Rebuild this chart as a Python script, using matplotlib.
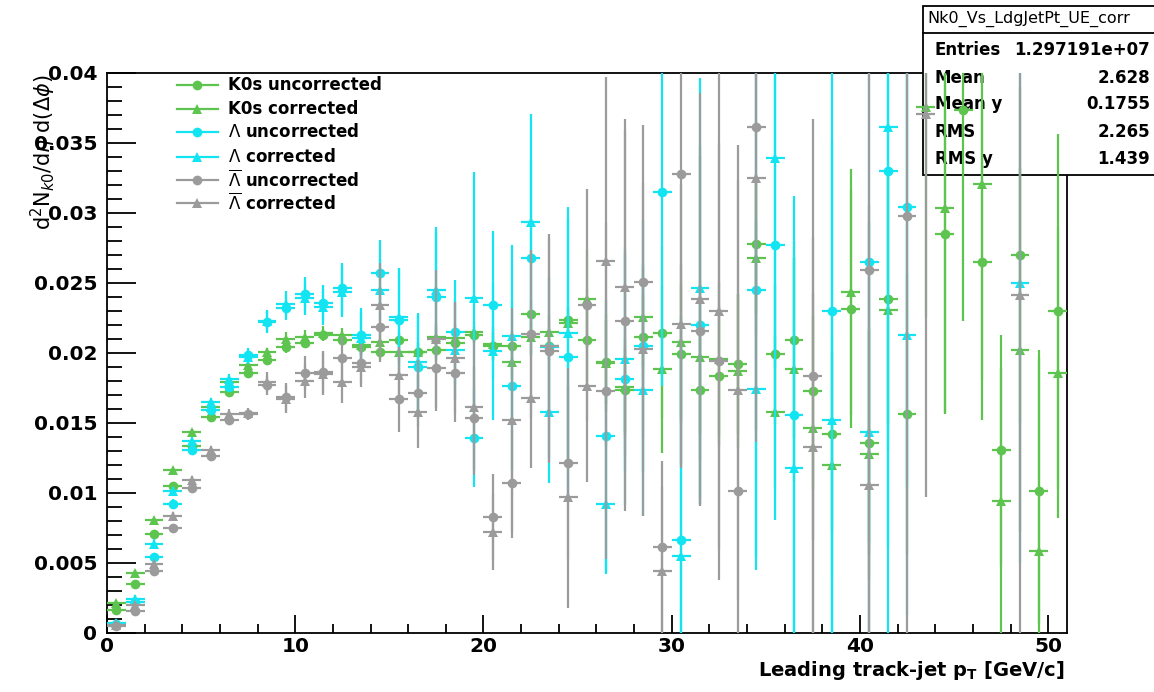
import numpy as np
import matplotlib.pyplot as plt
from matplotlib.lines import Line2D
from matplotlib.patches import Rectangle
from matplotlib.ticker import MultipleLocator

nan = np.nan

# bin centres (1 GeV/c bins)
pt_bins = np.arange(51) + 0.5

# K0s
k0_unc = [0.00167, 0.00352, 0.00705, 0.01048, 0.01333, 0.01543, 0.01721, 0.01857, 0.01948, 0.02043,
          0.02074, 0.02129, 0.02093, 0.02045, 0.0201, 0.02093, 0.0201, 0.02021, 0.02069, 0.02129,
          0.02053, 0.02048, 0.02278, 0.0205, 0.02238, 0.02093, 0.01934, 0.01735, 0.02111, 0.02146,
          0.01992, 0.01735, 0.01833, 0.0192, 0.02781, 0.01995, 0.02093, 0.0173, 0.01422, 0.02313,
          0.01359, 0.02384, 0.01563, nan, 0.02848, 0.03735, 0.02649, 0.01306, 0.02702, 0.01015, 0.02297]
k0_unc_err = [0.0002, 0.0002, 0.0002, 0.0002, 0.0002, 0.0003, 0.0003, 0.0003, 0.0003, 0.0004,
              0.0004, 0.0004, 0.0004, 0.0006, 0.0006, 0.0006, 0.0006, 0.0006, 0.0006, 0.0006,
              0.001, 0.001, 0.001, 0.001, 0.001, 0.003, 0.003, 0.003, 0.003, 0.0062,
              0.005, 0.005, 0.005, 0.005, 0.005, 0.005, 0.007, 0.007, 0.007, 0.0085,
              0.008, 0.009, 0.010, nan, 0.0128, 0.0151, 0.0113, 0.0082, 0.012, 0.0095, 0.0127]
k0_cor = [0.00214, 0.00429, 0.00805, 0.01162, 0.01436, 0.01614, 0.0179, 0.01912, 0.02007, 0.02102,
          0.02117, 0.0214, 0.02129, 0.02057, 0.02081, 0.0201, 0.0201, 0.02117, 0.02105, 0.02152,
          0.02066, 0.01934, 0.02111, 0.02151, 0.02212, 0.02384, 0.01926, 0.0176, 0.02257, 0.01886,
          0.0208, 0.01968, 0.0196, 0.01868, 0.02675, 0.01576, 0.01889, 0.01462, 0.012, 0.02437,
          0.0128, 0.0231, nan, 0.0376, 0.03033, nan, 0.0321, 0.00946, 0.02021, 0.00583, 0.0186]
k0_cor_err = [0.0002, 0.0002, 0.0002, 0.0002, 0.0002, 0.0003, 0.0003, 0.0003, 0.0003, 0.0005,
              0.0005, 0.0005, 0.0005, 0.0007, 0.0007, 0.0007, 0.0007, 0.0007, 0.0007, 0.0007,
              0.0012, 0.0012, 0.0012, 0.0012, 0.0012, 0.0035, 0.0035, 0.0035, 0.0035, 0.006,
              0.0055, 0.0055, 0.0055, 0.0055, 0.0055, 0.0055, 0.008, 0.008, 0.008, 0.0088,
              0.009, 0.010, nan, 0.015, 0.0147, nan, 0.014, 0.0095, 0.013, 0.0144, 0.0104]

# Lambda
lam_unc = [0.00067, 0.0022, 0.00543, 0.00924, 0.01305, 0.0159, 0.01757, 0.01983, 0.02221, 0.02324,
           0.02421, 0.02355, 0.02462, 0.02129, 0.02569, 0.02236, 0.01902, 0.02402, 0.02152, 0.0139,
           0.02344, 0.01762, 0.02675, 0.0204, 0.01973, nan, 0.01409, 0.01815, 0.02053, 0.03152,
           0.00662, 0.02199, nan, nan, 0.0245, 0.02768, 0.01558, nan, 0.02297, nan,
           0.02649, 0.03298, 0.0304, nan, nan, nan, nan, nan, nan, nan, nan]
lam_unc_err = [0.0003, 0.0003, 0.0003, 0.0003, 0.0003, 0.0003, 0.0003, 0.0005, 0.0008, 0.0009,
               0.0012, 0.0013, 0.0018, 0.0019, 0.0024, 0.0037, 0.0037, 0.0046, 0.0037, 0.0035,
               0.0053, 0.006, 0.007, 0.005, 0.0099, nan, 0.0097, 0.009, 0.009, 0.0139,
               0.016, 0.0128, nan, nan, 0.020, 0.0196, 0.0156, nan, 0.025, nan,
               0.02, 0.035, 0.02, nan, nan, nan, nan, nan, nan, nan, nan]
lam_cor = [0.0007, 0.00245, 0.00638, 0.01014, 0.01371, 0.0165, 0.01817, 0.0197, 0.0223, 0.02352,
           0.0239, 0.0233, 0.02438, 0.02105, 0.0245, 0.0226, 0.01938, 0.0245, 0.0202, 0.0239,
           0.02013, 0.02119, 0.02935, 0.01581, 0.02146, nan, 0.00919, 0.0196, 0.01735, nan,
           0.00548, 0.02464, nan, nan, 0.0174, 0.03391, 0.01179, nan, 0.01518, nan,
           0.01436, 0.03616, 0.02132, nan, nan, nan, nan, nan, 0.02503, nan, nan]
lam_cor_err = [0.0003, 0.0003, 0.0003, 0.0003, 0.0003, 0.0003, 0.0003, 0.0005, 0.0008, 0.0009,
               0.0012, 0.0013, 0.0018, 0.0019, 0.0022, 0.0035, 0.0035, 0.0045, 0.0035, 0.009,
               0.0049, 0.0065, 0.0077, 0.0051, 0.009, nan, 0.005, 0.008, 0.009, nan,
               0.015, 0.015, nan, nan, 0.012, 0.015, 0.015, nan, 0.02, nan,
               0.015, 0.03, 0.02, nan, nan, nan, nan, nan, 0.02, nan, nan]

# anti-Lambda
alam_unc = [0.00048, 0.00157, 0.00443, 0.00752, 0.01038, 0.01262, 0.01524, 0.01562, 0.01769, 0.01686,
            0.01855, 0.01867, 0.01962, 0.01926, 0.02188, 0.01669, 0.01712, 0.01895, 0.0186, 0.01533,
            0.00829, 0.01068, 0.02138, 0.02013, 0.01211, 0.02344, 0.01727, 0.0223, 0.02509, 0.00617,
            0.03277, 0.02159, 0.01942, 0.01015, 0.03616, nan, nan, 0.01833, nan, nan,
            0.02596, nan, 0.0298, nan, nan, nan, nan, nan, nan, nan, nan]
alam_unc_err = [0.0003, 0.0003, 0.0003, 0.0003, 0.0003, 0.0003, 0.0003, 0.0004, 0.0007, 0.001,
                0.0012, 0.0015, 0.0015, 0.0014, 0.0025, 0.0023, 0.0024, 0.0031, 0.0035, 0.0037,
                0.0031, 0.0039, 0.006, 0.008, 0.0068, 0.0083, 0.012, 0.0136, 0.0112, 0.0061,
                0.021, 0.0125, 0.0156, 0.0247, 0.0225, nan, nan, 0.0184, nan, nan,
                0.028, nan, 0.03, nan, nan, nan, nan, nan, nan, nan, nan]
alam_cor = [0.0006, 0.00198, 0.00495, 0.00833, 0.01095, 0.01305, 0.01567, 0.0157, 0.01793, 0.01674,
            0.0180, 0.0185, 0.01795, 0.0190, 0.02343, 0.01843, 0.01581, 0.0210, 0.01962, 0.01612,
            0.00723, 0.01518, 0.01677, 0.0205, 0.00972, 0.01767, 0.02654, 0.02472, 0.02026, 0.00442,
            0.02207, 0.02384, 0.02297, 0.01735, 0.0325, nan, nan, 0.01332, nan, nan,
            0.0106, nan, nan, 0.03708, nan, nan, nan, nan, 0.02411, nan, nan]
alam_cor_err = [0.0003, 0.0003, 0.0003, 0.0003, 0.0003, 0.0003, 0.0003, 0.0004, 0.0007, 0.001,
                0.0012, 0.0015, 0.0015, 0.0014, 0.003, 0.002, 0.0026, 0.0049, 0.004, 0.0048,
                0.0027, 0.008, 0.005, 0.008, 0.0079, 0.0069, 0.0132, 0.012, 0.0119, 0.006,
                0.01, 0.0147, 0.017, 0.015, 0.018, nan, nan, 0.015, nan, nan,
                0.02, nan, nan, 0.0274, nan, nan, nan, nan, 0.025, nan, nan]

green = '#5cc44f'
cyan = '#12e4f2'
grey = '#9b9b9b'

series = [
    (k0_unc, k0_unc_err, green, 'o', 'K0s uncorrected'),
    (k0_cor, k0_cor_err, green, '^', 'K0s corrected'),
    (lam_unc, lam_unc_err, cyan, 'o', r'$\Lambda$ uncorrected'),
    (lam_cor, lam_cor_err, cyan, '^', r'$\Lambda$ corrected'),
    (alam_unc, alam_unc_err, grey, 'o', r'$\overline{\Lambda}$ uncorrected'),
    (alam_cor, alam_cor_err, grey, '^', r'$\overline{\Lambda}$ corrected'),
]

W, H = 1154, 692
fig = plt.figure(figsize=(W / 100, H / 100), dpi=100)
ax = fig.add_axes([107 / W, 1 - 633 / H, (1067 - 107) / W, (633 - 73) / H])

for i, (vals, errs, col, mk, lab) in enumerate(series):
    y = np.array(vals, dtype=float)
    e = np.array(errs, dtype=float)
    ok = ~np.isnan(y)
    ax.errorbar(pt_bins[ok], y[ok], yerr=e[ok], xerr=0.5, fmt=mk, color=col,
                ms=7 if mk == 'o' else 7.5, elinewidth=1.6, capsize=0,
                markeredgewidth=0, zorder=3 + i)

ax.set_xlim(0, 51)
ax.set_ylim(0, 0.04)
ax.xaxis.set_major_locator(MultipleLocator(10))
ax.xaxis.set_minor_locator(MultipleLocator(2))
ax.yaxis.set_minor_locator(MultipleLocator(0.001))
ax.set_yticks([0, 0.005, 0.01, 0.015, 0.02, 0.025, 0.03, 0.035, 0.04])
ax.set_yticklabels(['0', '0.005', '0.01', '0.015', '0.02', '0.025', '0.03', '0.035', '0.04'])
ax.tick_params(axis='both', which='both', direction='in', top=False, right=False, width=1.3)
ax.tick_params(axis='y', which='major', length=21, pad=7)
ax.tick_params(axis='y', which='minor', length=11)
ax.tick_params(axis='x', which='major', length=13, pad=3)
ax.tick_params(axis='x', which='minor', length=6.5)
for lbl in ax.get_xticklabels() + ax.get_yticklabels():
    lbl.set_fontsize(14.5)
    lbl.set_fontweight('bold')
for s in ax.spines.values():
    s.set_linewidth(1.3)

# axis titles
fig.text(1065 / W, 1 - 671 / H, r'Leading track-jet p$_{\mathregular{T}}$ [GeV/c]',
         ha='right', va='center', fontsize=14, fontweight='bold')
fig.text(43 / W, 1 - 75 / H, r'd$^{2}$N$_{k0}$/d$\eta$ d($\Delta\phi$)',
         rotation=90, ha='center', va='top', fontsize=15)

# legend (drawn by hand to keep ROOT layout)
leg_rows = [85, 109, 132, 157, 180, 203]
for (vals, errs, col, mk, lab), ry in zip(series, leg_rows):
    fy = 1 - ry / H
    fig.add_artist(Line2D([177 / W, 218 / W], [fy, fy], color=col, lw=1.6,
                          transform=fig.transFigure))
    fig.add_artist(Line2D([197 / W], [fy], color=col, marker=mk, ms=7, mew=0,
                          transform=fig.transFigure))
    fig.text(228 / W, fy, lab, ha='left', va='center', fontsize=12, fontweight='bold')

# stats box
box = Rectangle((923 / W, 1 - 175 / H), (1160 - 923) / W, (175 - 6) / H,
                transform=fig.transFigure, facecolor='white', edgecolor='black',
                lw=1.3, zorder=2.8, clip_on=False)
ax.add_artist(box)
ax.add_artist(Line2D([923 / W, 1], [1 - 33 / H, 1 - 33 / H], color='black', lw=1.3,
                     transform=fig.transFigure, zorder=2.9, clip_on=False))
ax.text(927 / W, 1 - 19 / H, 'Nk0_Vs_LdgJetPt_UE_corr', transform=fig.transFigure,
        ha='left', va='center', fontsize=11.5, zorder=2.9, clip_on=False)
stat_names = ['Entries', 'Mean', 'Mean y', 'RMS', 'RMS y']
stat_vals = ['1.297191e+07', '2.628', '0.1755', '2.265', '1.439']
stat_rows = [50, 78, 104, 132, 159]
for nm, v, ry in zip(stat_names, stat_vals, stat_rows):
    ax.text(935 / W, 1 - ry / H, nm, transform=fig.transFigure, ha='left', va='center',
            fontsize=12, fontweight='bold', zorder=2.9, clip_on=False)
    ax.text(1150 / W, 1 - ry / H, v, transform=fig.transFigure, ha='right', va='center',
            fontsize=12, fontweight='bold', zorder=2.9, clip_on=False)

fig.savefig('out.png', dpi=100)
